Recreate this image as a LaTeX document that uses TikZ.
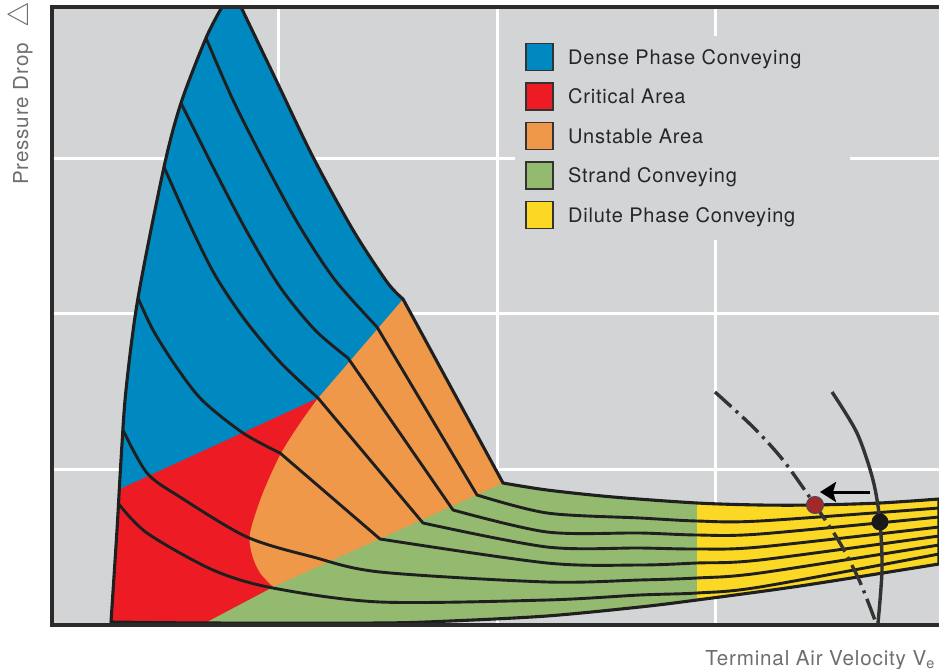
\documentclass[tikz,border=0pt]{standalone}
\usepackage{fontspec}
\setmainfont{TeX Gyre Heros}[LetterSpace=4]
\usetikzlibrary{positioning,arrows.meta}

\definecolor{cblue}{RGB}{0,136,193}
\definecolor{cred}{RGB}{237,28,36}
\definecolor{corange}{RGB}{240,152,74}
\definecolor{cgreen}{RGB}{147,186,110}
\definecolor{cyellow}{RGB}{250,216,36}
\definecolor{plotgray}{RGB}{211,212,214}
\definecolor{framegray}{RGB}{43,43,43}
\definecolor{axisgray}{RGB}{109,110,112}
\definecolor{pointred}{RGB}{163,40,42}

\tikzset{
  flowline/.style={draw=black!88, line width=1.45pt, line join=round},
  gridline/.style={draw=white, line width=1.5pt},
  axisline/.style={draw=framegray, line width=1.6pt},
  legsquare/.style={draw=black!80, line width=0.7pt, minimum size=13.5pt, inner sep=0pt},
  legtext/.style={inner sep=0pt, text=black!85, font=\fontsize{10}{12}\selectfont,
    text height=7.4pt, text depth=0pt},
  axislabel/.style={inner sep=0pt, text=axisgray, font=\fontsize{10.3}{12}\selectfont},
  pointmark/.style={circle, inner sep=0pt, minimum size=8.5pt},
  velocurve/.style={draw=black!80, line width=1.7pt},
}

% outer border of the conveying zones
\newcommand{\bandoutline}{(111,622)
  -- plot[smooth] coordinates {(111,622) (117,530) (121,460) (126,390) (138,298)
     (164,167) (181,103) (206,38) (222,7)}
  -- (241,7)
  -- plot[smooth] coordinates {(241,7) (277,82) (313,157) (353,230) (387,282) (403,299)}
  -- (503,483)
  -- plot[smooth] coordinates {(503,483) (547,490) (613,497) (697,503) (760,505)
     (815,505) (880,503) (939,499)}
  -- (939,564)
  -- plot[smooth] coordinates {(939,564) (800,586) (697,600) (640,607) (547,616)
     (450,621) (380,623) (205,623) (111,622)}
  -- cycle}

\begin{document}
\begin{tikzpicture}[x=0.5pt,y=-0.5pt]

\useasboundingbox (0,0) rectangle (939,669);

% plot area and grid
\fill[plotgray] (52,7) rectangle (939,625);
\foreach \x in {278,497,715}
  \draw[gridline] (\x,7) -- (\x,625);
\foreach \y in {158,313,469}
  \draw[gridline] (52,\y) -- (939,\y);
\fill[plotgray] (515,36) rectangle (850,240);

% zones
\begin{scope}
  \clip \bandoutline;
  \fill[cyellow] (0,0) rectangle (939,669);
  \fill[cgreen] (0,0) rectangle (697,669);
  \fill[corange] (273,587) -- (503,483) -- (723,383) -- (723,-20) -- (0,-20) -- (0,587) -- cycle;
  \fill[cred] (150,652) -- (273,587)
    -- plot[smooth] coordinates {(273,587) (260,573) (252,555) (250,533) (262,495)
       (280,455) (300,423) (318,398)}
    -- (318,300) -- (0,300) -- (0,652) -- cycle;
  \fill[cblue] (0,544) -- (318,398) -- (403,299) -- (505,180) -- (505,-20) -- (0,-20) -- cycle;
\end{scope}

\draw[flowline, line width=1.55pt] \bandoutline;

% lines of constant load
\draw[flowline] plot[smooth] coordinates {(206,38) (233,100) (267,167) (300,227) (335,280) (377,327)}
  -- (477,495)
  -- plot[smooth] coordinates {(477,495) (547,513) (640,518) (697,521) (760,521) (939,508)};
\draw[flowline] plot[smooth] coordinates {(181,103) (213,167) (246,230) (280,287) (315,330) (348,358)}
  -- (453,510)
  -- plot[smooth] coordinates {(453,510) (547,532) (640,533) (697,535) (760,534) (939,517)};
\draw[flowline] plot[smooth] coordinates {(164,167) (190,225) (215,275) (245,320) (280,362) (318,398)}
  -- (423,523)
  -- plot[smooth] coordinates {(423,523) (547,547) (640,548) (697,549) (760,547) (939,527)};
\draw[flowline] plot[smooth] coordinates {(138,298) (153,330) (175,365) (202,400) (243,433) (280,453)}
  -- (380,539)
  -- plot[smooth] coordinates {(380,539) (547,563) (640,565) (697,563) (760,560) (939,536)};
\draw[flowline] plot[smooth] coordinates {(123,430) (147,473) (180,497) (247,537) (313,557)
  (380,572) (547,582) (640,580) (697,578) (760,573) (939,545)};
\draw[flowline] plot[smooth] coordinates {(118,503) (147,533) (213,570) (273,588) (380,602)
  (547,600) (640,595) (697,593) (760,587) (939,554)};

% axes
\draw[axisline] (939,7) -- (52,7) -- (52,625) -- (939,625);

% velocity curves
\draw[velocurve, dash pattern=on 11pt off 3pt on 1.5pt off 3pt]
  plot[smooth] coordinates {(715,392) (753,427) (783,460) (815,505) (840,543) (860,582) (876,623)};
\draw[velocurve]
  plot[smooth] coordinates {(832,392) (857,433) (873,480) (880,522) (882,570) (878,623)};

\node[pointmark, fill=black!90] (design) at (880,522) {};
\node[pointmark, fill=pointred, draw=black!70, line width=0.5pt] (actual) at (815,505) {};

\coordinate (shiftfrom) at (870,492);
\coordinate (shiftto) at (820,492);
\draw[line width=1.5pt, -{Stealth[length=8pt,width=10pt,inset=1.5pt]}] (shiftfrom) -- (shiftto);

% legend
\foreach \col/\txt [count=\i] in {cblue/Dense Phase Conveying, cred/Critical Area,
    corange/Unstable Area, cgreen/Strand Conveying, cyellow/Dilute Phase Conveying} {
  \node[legsquare, fill=\col] (sq\i) at (539.5,{57+39.5*(\i-1)}) {};
  \node[legtext, anchor=west, right=7pt of sq\i] (tx\i) {\txt};
}

% axis labels
\node[axislabel, anchor=base west] (xlabel) at (705,665) {Terminal Air Velocity V\textsubscript{e}};
\node[axislabel, rotate=90, anchor=base west] (ylabel) at (28,185)
  {Pressure Drop\hspace{8pt}{\fontsize{14}{14}\selectfont$\triangle$}};

\end{tikzpicture}
\end{document}
